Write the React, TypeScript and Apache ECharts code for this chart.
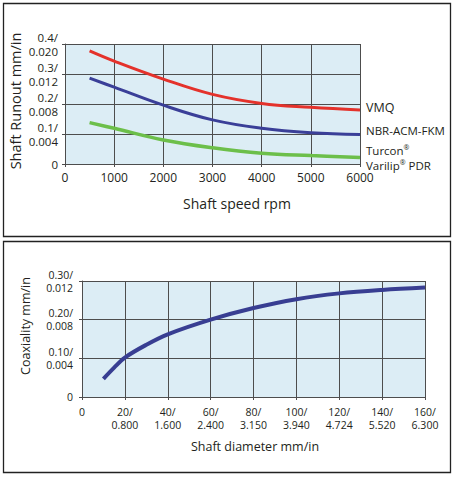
import React, { useEffect, useRef } from "react";
import * as echarts from "echarts";

// Top chart: shaft runout vs shaft speed
const speedRpm = [500, 1000, 2000, 3000, 4000, 5000, 6000];
const vmq = [0.377, 0.343, 0.283, 0.232, 0.202, 0.189, 0.18];
const nbr = [0.286, 0.256, 0.196, 0.147, 0.119, 0.104, 0.098];
const turcon = [0.138, 0.119, 0.08, 0.054, 0.036, 0.028, 0.022];
const runoutTickLabels = ["0", "0.1/\n0.004", "0.2/\n0.008", "0.3/\n0.012", "0.4/\n0.020"];

// Bottom chart: coaxiality vs shaft diameter
const diameterMm = [10, 15, 20, 30, 40, 60, 80, 100, 120, 140, 160];
const coaxiality = [0.047, 0.076, 0.102, 0.135, 0.162, 0.2, 0.23, 0.253, 0.268, 0.277, 0.283];
const coaxTickLabels = ["0", "0.10/\n0.004", "0.20/\n0.008", "0.30/\n0.012"];
const diameterTickLabels: Record<number, string> = {
  0: "0",
  20: "20/\n0.800",
  40: "40/\n1.600",
  60: "60/\n2.400",
  80: "80/\n3.150",
  100: "100/\n3.940",
  120: "120/\n4.724",
  140: "140/\n5.520",
  160: "160/\n6.300",
};

const FONT = "Open Sans";
const TXT = "#231f20";
const GRIDC = "#4d4d4d";
const BG = "#dcedf5";

export default function App() {
  const ref = useRef<HTMLDivElement>(null);
  useEffect(() => {
    if (!ref.current) return;
    const chart = echarts.init(ref.current, null, { renderer: "svg" });
    const axisCommon = {
      axisLine: { show: true, lineStyle: { color: GRIDC, width: 1 } },
      axisTick: { show: true, length: 3, lineStyle: { color: GRIDC } },
      splitLine: { show: true, lineStyle: { color: GRIDC, width: 1 } },
    };
    chart.setOption({
      animation: false,
      textStyle: { fontFamily: FONT },
      grid: [
        { left: 65, top: 44, width: 295, height: 120, show: true, backgroundColor: BG, borderWidth: 0 },
        { left: 82, top: 281, width: 343, height: 116, show: true, backgroundColor: BG, borderWidth: 0 },
      ],
      xAxis: [
        {
          gridIndex: 0,
          type: "value",
          min: 0,
          max: 6000,
          interval: 1000,
          ...axisCommon,
          axisLabel: { color: TXT, fontSize: 12, fontFamily: FONT, margin: 7, formatter: (v: number) => String(v) },
        },
        {
          gridIndex: 1,
          type: "value",
          min: 0,
          max: 160,
          interval: 20,
          ...axisCommon,
          axisLabel: {
            color: TXT,
            fontSize: 10.5,
            lineHeight: 13,
            fontFamily: FONT,
            margin: 8,
            verticalAlign: "top",
            formatter: (v: number) => diameterTickLabels[v] ?? "",
          },
        },
      ],
      yAxis: [
        {
          gridIndex: 0,
          type: "value",
          min: 0,
          max: 0.4,
          interval: 0.1,
          ...axisCommon,
          axisLabel: {
            color: TXT,
            fontSize: 11.5,
            lineHeight: 14,
            fontFamily: FONT,
            margin: 7,
            formatter: (v: number) => runoutTickLabels[Math.round(v * 10)] ?? "",
          },
        },
        {
          gridIndex: 1,
          type: "value",
          min: 0,
          max: 0.3,
          interval: 0.1,
          ...axisCommon,
          axisLabel: {
            color: TXT,
            fontSize: 10.5,
            lineHeight: 13,
            fontFamily: FONT,
            margin: 9,
            formatter: (v: number) => coaxTickLabels[Math.round(v * 10)] ?? "",
          },
        },
      ],
      series: [
        {
          type: "line",
          xAxisIndex: 0,
          yAxisIndex: 0,
          smooth: 0.4,
          symbol: "none",
          lineStyle: { color: "#e4322b", width: 3 },
          data: speedRpm.map((x, i) => [x, vmq[i]]),
        },
        {
          type: "line",
          xAxisIndex: 0,
          yAxisIndex: 0,
          smooth: 0.4,
          symbol: "none",
          lineStyle: { color: "#3a3f98", width: 3 },
          data: speedRpm.map((x, i) => [x, nbr[i]]),
        },
        {
          type: "line",
          xAxisIndex: 0,
          yAxisIndex: 0,
          smooth: 0.4,
          symbol: "none",
          lineStyle: { color: "#6cbf4a", width: 3.5 },
          data: speedRpm.map((x, i) => [x, turcon[i]]),
        },
        {
          type: "line",
          xAxisIndex: 1,
          yAxisIndex: 1,
          smooth: 0.35,
          symbol: "none",
          lineStyle: { color: "#383e92", width: 4 },
          data: diameterMm.map((x, i) => [x, coaxiality[i]]),
        },
      ],
      graphic: [
        { type: "rect", shape: { x: 3.5, y: 3.5, width: 447, height: 233 }, style: { fill: "none", stroke: "#222", lineWidth: 1.3 } },
        { type: "rect", shape: { x: 3.5, y: 241.5, width: 447, height: 231 }, style: { fill: "none", stroke: "#222", lineWidth: 1.3 } },
        {
          type: "text",
          x: 15,
          y: 101,
          rotation: Math.PI / 2,
          style: { text: "Shaft Runout mm/in", fontFamily: FONT, fontSize: 14.5, fill: TXT, align: "center", verticalAlign: "middle" },
        },
        {
          type: "text",
          x: 237,
          y: 203,
          style: { text: "Shaft speed rpm", fontFamily: FONT, fontSize: 14, fill: TXT, align: "center", verticalAlign: "middle" },
        },
        {
          type: "text",
          x: 366,
          y: 107,
          style: { text: "VMQ", fontFamily: FONT, fontSize: 12.5, fill: TXT, align: "left", verticalAlign: "middle" },
        },
        {
          type: "text",
          x: 366,
          y: 130,
          style: { text: "NBR-ACM-FKM", fontFamily: FONT, fontSize: 11.5, fill: TXT, align: "left", verticalAlign: "middle" },
        },
        {
          type: "text",
          x: 366,
          y: 150,
          style: {
            text: "{a|Turcon}{s|®}",
            fontFamily: FONT,
            fill: TXT,
            align: "left",
            verticalAlign: "middle",
            rich: {
              a: { fontSize: 11.5, fontFamily: FONT, fill: TXT },
              s: { fontSize: 7, fontFamily: FONT, fill: TXT, verticalAlign: "top", padding: [0, 0, 6, 0] },
            },
          },
        },
        {
          type: "text",
          x: 366,
          y: 165,
          style: {
            text: "{a|Varilip}{s|®}{a| PDR}",
            fontFamily: FONT,
            fill: TXT,
            align: "left",
            verticalAlign: "middle",
            rich: {
              a: { fontSize: 11.5, fontFamily: FONT, fill: TXT },
              s: { fontSize: 7, fontFamily: FONT, fill: TXT, verticalAlign: "top", padding: [0, 0, 6, 0] },
            },
          },
        },
        {
          type: "text",
          x: 25,
          y: 326,
          rotation: Math.PI / 2,
          style: { text: "Coaxiality mm/in", fontFamily: FONT, fontSize: 12.5, fill: TXT, align: "center", verticalAlign: "middle" },
        },
        {
          type: "text",
          x: 255,
          y: 446,
          style: { text: "Shaft diameter mm/in", fontFamily: FONT, fontSize: 12.5, fill: TXT, align: "center", verticalAlign: "middle" },
        },
      ],
    });
    return () => chart.dispose();
  }, []);
  return (
    <div
      ref={ref}
      style={{ position: "absolute", left: 0, top: 0, width: 456, height: 478, background: "#fff" }}
    />
  );
}
